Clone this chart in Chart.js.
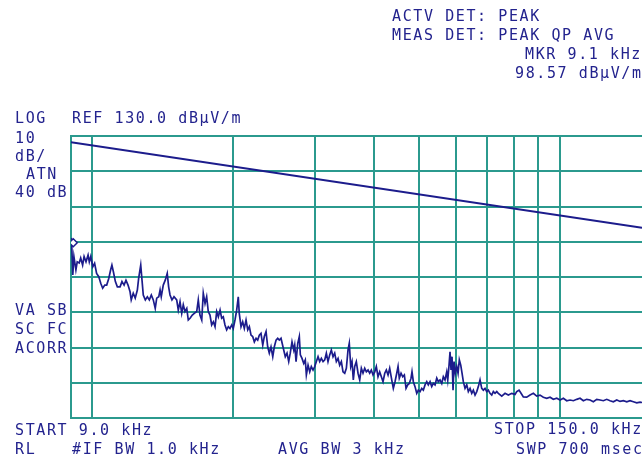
<!DOCTYPE html>
<html lang="en">
<head>
<meta charset="UTF-8">
<title>Spectrum Analyzer Plot</title>
<script src="https://cdnjs.cloudflare.com/ajax/libs/Chart.js/4.4.1/chart.umd.js"></script>
<style>
    body { margin: 0; background: #fff; }
    .screen { position: relative; width: 642px; height: 464px; overflow: hidden; background: #fff; }
    .screen canvas { position: absolute; left: 0; top: 0; }
    .lbl {
        position: absolute;
        font-family: "DejaVu Sans Mono", monospace;
        font-size: 15px;
        line-height: 15px;
        letter-spacing: 1.6px;
        color: #23238e;
        white-space: pre;
    }
</style>
</head>
<body>
<div class="screen">
    <canvas id="spectrum" width="642" height="464"></canvas>

    <div class="lbl" style="left:392px;top:9px">ACTV DET: PEAK</div>
    <div class="lbl" style="left:392px;top:28px">MEAS DET: PEAK QP AVG</div>
    <div class="lbl" style="left:525px;top:47px">MKR 9.1 kHz</div>
    <div class="lbl" style="left:515px;top:66px">98.57 dBµV/m</div>

    <div class="lbl" style="left:15px;top:111px">LOG</div>
    <div class="lbl" style="left:72px;top:111px">REF 130.0 dBµV/m</div>
    <div class="lbl" style="left:15px;top:131px">10</div>
    <div class="lbl" style="left:15px;top:149px">dB/</div>
    <div class="lbl" style="left:26px;top:167px">ATN</div>
    <div class="lbl" style="left:15px;top:185px">40 dB</div>
    <div class="lbl" style="left:15px;top:303px">VA SB</div>
    <div class="lbl" style="left:15px;top:322px">SC FC</div>
    <div class="lbl" style="left:15px;top:341px">ACORR</div>

    <div class="lbl" style="left:15px;top:423px">START 9.0 kHz</div>
    <div class="lbl" style="left:494px;top:422px">STOP 150.0 kHz</div>
    <div class="lbl" style="left:15px;top:442px">RL</div>
    <div class="lbl" style="left:72px;top:442px">#IF BW 1.0 kHz</div>
    <div class="lbl" style="left:278px;top:442px">AVG BW 3 kHz</div>
    <div class="lbl" style="left:516px;top:442px">SWP 700 msec</div>
</div>

<script>
    // frequency axis (kHz) and level axis (dBuV/m)
    const startKHz = 9;
    const stopKHz = 150;
    const xGridKHz = [10, 20, 30, 40, 50, 60, 70, 80, 90, 100];
    const refLevel = 130;
    const bottomLevel = 50;
    const dbPerDiv = 10;

    const traceFreq = [
        9.02, 9.08, 9.13, 9.22, 9.28, 9.37, 9.44, 9.53, 9.60, 9.69,
        9.79, 9.85, 9.92, 10.02, 10.11, 10.21, 10.32, 10.42, 10.52, 10.63,
        10.73, 10.84, 10.94, 11.01, 11.09, 11.20, 11.31, 11.46, 11.57, 11.69,
        11.80, 11.92, 12.04, 12.11, 12.23, 12.35, 12.48, 12.56, 12.69, 12.77,
        12.85, 12.98, 13.11, 13.24, 13.37, 13.50, 13.63, 13.73, 13.87, 13.96,
        14.04, 14.18, 14.32, 14.46, 14.56, 14.66, 14.80, 14.95,
        15.15, 15.27, 15.40, 15.53, 15.65, 15.78, 15.92, 16.04, 16.18, 16.36,
        16.52, 16.72, 16.85, 16.99, 17.14, 17.27, 17.42, 17.56, 17.70, 17.85,
        18.00, 18.15, 18.30, 18.45, 18.60, 18.76, 18.91, 19.06, 19.22, 19.38,
        19.54, 19.70, 19.87, 20.02, 20.19, 20.36, 20.52, 20.62, 20.80, 20.97,
        21.14, 21.32, 21.50, 21.67, 21.85, 22.03, 22.21, 22.40, 22.58, 22.76,
        22.95, 23.15, 23.33, 23.53, 23.72, 23.91, 24.11, 24.32, 24.51, 24.72,
        24.92, 25.12, 25.33,
        25.67, 25.87, 26.09, 26.31, 26.51, 26.74, 26.97, 27.10, 27.28, 27.51,
        27.72, 27.86, 28.09, 28.33, 28.55, 28.70, 28.94, 29.18, 29.41, 29.66,
        29.91, 30.15, 30.40, 30.65, 30.90, 31.16, 31.42, 31.67, 31.93, 32.20,
        32.46, 32.73, 33.00, 33.27, 33.55, 33.82, 34.10, 34.38, 34.67, 34.95,
        35.24, 35.46, 35.71, 35.94, 36.17, 36.42, 36.71, 37.02, 37.33, 37.63,
        37.94, 38.26, 38.57, 38.89, 39.21, 39.53, 39.86, 40.20, 40.51, 40.85,
        41.19, 41.53, 41.87, 42.23, 42.56, 42.92, 43.27,
        43.71, 44.05, 44.42, 44.80, 45.09, 45.37, 45.76, 46.14, 46.51, 46.90,
        47.29, 47.66, 48.07, 48.30, 48.62, 49.02, 49.44, 49.83, 50.25, 50.67,
        51.07, 51.50, 51.94, 52.34, 52.79, 53.23, 53.65, 54.10, 54.56, 54.99,
        55.45, 55.92, 56.36, 56.83, 57.31, 57.60, 57.97, 58.25, 58.54, 58.83,
        59.12, 59.41, 59.79, 60.21, 60.60, 60.98, 61.41, 61.80, 62.20, 62.72,
        63.25, 63.75, 64.29, 64.83, 65.34, 65.89, 66.45, 66.97, 67.53, 68.10,
        68.64, 69.22, 69.80, 70.35, 70.94, 71.54, 72.11, 72.71, 73.33, 73.90,
        75.16, 76.39, 77.64, 78.95, 80.24, 80.92, 81.84, 82.65, 83.60, 85.01,
        86.40, 87.82, 89.30, 90.76, 92.25, 93.81, 95.35, 96.91, 98.55, 100.17,
        101.81, 103.53, 105.22, 106.96, 108.76, 110.54, 112.36, 114.25, 116.12, 118.03,
        120.03, 121.99, 123.99, 126.08, 128.16, 130.26, 132.46, 134.63, 136.83, 139.15,
        141.43, 143.74, 146.17, 148.6, 150
    ];
    const traceLevel = [
        101.1, 90.6, 95.8, 92.0, 94.3, 94.0, 95.4, 93.4, 95.8, 94.3,
        96.2, 94.3, 95.8, 92.9, 93.9, 91.0, 90.1, 88.2, 86.8, 87.7,
        87.7, 89.6, 92.0, 93.4, 91.5, 88.7, 87.2, 87.2, 88.7, 87.7,
        89.1, 87.7, 85.8, 83.5, 85.4, 84.0, 86.3, 89.6, 93.4, 89.1,
        84.9, 83.5, 84.4, 83.5, 84.9, 83.5, 81.1, 84.0, 84.4, 86.3,
        84.4, 87.7, 89.1, 91.0, 87.2, 84.9, 83.5, 84.4,
        83.5, 80.6, 83.0, 79.7, 82.1, 80.2, 81.1, 77.8, 78.3, 79.2,
        79.7, 80.2, 83.5, 79.2, 77.8, 85.4, 82.5, 84.4, 80.2, 79.2,
        76.4, 77.3, 75.9, 80.2, 78.7, 80.6, 78.3, 78.7, 76.4, 75.0,
        75.9, 75.4, 76.4, 75.4, 77.8, 80.6, 84.4, 79.7, 75.9, 77.3,
        75.4, 77.8, 75.0, 75.9, 73.5, 73.1, 71.6, 72.6, 72.1, 73.5,
        74.0, 70.7, 73.1, 74.5, 70.2, 68.4, 70.2, 67.4, 70.2, 72.1,
        72.6, 72.1, 72.6,
        69.3, 67.4, 68.4, 66.0, 68.4, 71.6, 69.3, 70.7, 66.0, 71.2,
        73.1, 67.9, 66.9, 65.5, 66.5, 62.2, 65.0, 63.1, 64.6, 63.6,
        64.6, 66.0, 67.4, 66.0, 66.9, 66.0, 66.5, 68.4, 66.0, 67.9,
        69.3, 67.4, 68.4, 66.0, 66.9, 65.0, 66.0, 63.1, 62.7, 64.1,
        69.3, 71.2, 64.6, 66.0, 60.8, 64.6, 66.0, 62.7, 60.8, 64.1,
        62.7, 64.1, 63.1, 63.6, 62.7, 63.6, 62.2, 63.1, 64.6, 61.7,
        63.1, 61.7, 60.3, 62.7, 63.6, 62.2, 64.1,
        60.8, 58.4, 60.3, 62.7, 64.6, 61.3, 62.7, 61.7, 62.2, 58.4,
        59.4, 59.8, 61.3, 63.1, 60.3, 58.9, 57.0, 57.9, 57.5, 58.4,
        57.9, 59.4, 60.3, 59.4, 60.3, 58.9, 59.8, 59.4, 61.3, 60.3,
        60.8, 59.8, 61.7, 60.8, 63.1, 60.8, 65.0, 68.8, 63.6, 67.4,
        57.9, 66.0, 62.7, 64.6, 62.7, 66.5, 65.0, 62.7, 60.3, 58.4,
        59.4, 57.5, 58.4, 57.0, 57.9, 56.5, 57.5, 58.9, 60.8, 58.4,
        57.9, 58.4, 57.5, 57.9, 57.0, 56.5, 57.5, 57.0, 57.5, 57.0,
        56.2, 57.0, 56.5, 57.0, 56.7, 57.5, 57.9, 57.0, 56.0, 55.9,
        56.5, 57.0, 56.2, 56.5, 55.9, 55.6, 55.9, 55.3, 55.6, 55.1,
        55.6, 54.9, 55.1, 54.9, 55.3, 55.6, 54.9, 55.3, 55.1, 54.6,
        55.3, 55.1, 54.9, 55.3, 54.9, 54.6, 55.1, 54.7, 54.9, 54.6,
        54.9, 54.6, 54.3, 54.5, 54.4
    ];

    // limit line
    const limitFreq = [9, 150];
    const limitLevel = [128.2, 104.0];

    // marker
    const markerFreq = [9.1];
    const markerLevel = [99.7];

    const gridColor = '#2b9a8e';
    const traceColor = '#1c1c8c';

    const toPoints = (xs, ys) => xs.map((x, i) => ({ x: x, y: ys[i] }));

    new Chart(document.getElementById('spectrum'), {
        type: 'line',
        data: {
            datasets: [
                {
                    data: toPoints(markerFreq, markerLevel),
                    order: 0,
                    showLine: false,
                    pointStyle: 'rectRot',
                    pointRadius: 4,
                    pointBorderWidth: 1.5,
                    pointBorderColor: traceColor,
                    pointBackgroundColor: '#ffffff'
                },
                {
                    data: toPoints(traceFreq, traceLevel),
                    order: 1,
                    borderColor: traceColor,
                    borderWidth: 1.7,
                    pointRadius: 0,
                    tension: 0
                },
                {
                    data: toPoints(limitFreq, limitLevel),
                    order: 2,
                    borderColor: traceColor,
                    borderWidth: 2,
                    pointRadius: 0,
                    tension: 0
                }
            ]
        },
        options: {
            responsive: false,
            animation: false,
            events: [],
            // graticule runs right up to the screen edge, no extra room for the marker
            layout: { autoPadding: false, padding: { left: 71, top: 136, right: 0, bottom: 46 } },
            plugins: {
                legend: { display: false },
                tooltip: { enabled: false }
            },
            scales: {
                x: {
                    type: 'logarithmic',
                    min: startKHz,
                    max: stopKHz,
                    afterBuildTicks: s => { s.ticks = xGridKHz.map(v => ({ value: v })); },
                    afterFit: s => { s.height = 0; },
                    ticks: { display: false },
                    grid: { color: gridColor, lineWidth: 2, drawTicks: false },
                    border: { color: gridColor, width: 2 }
                },
                y: {
                    min: bottomLevel,
                    max: refLevel,
                    afterFit: s => { s.width = 0; },
                    ticks: { display: false, stepSize: dbPerDiv },
                    grid: { color: gridColor, lineWidth: 2, drawTicks: false },
                    border: { color: gridColor, width: 2 }
                }
            }
        }
    });
</script>
</body>
</html>
